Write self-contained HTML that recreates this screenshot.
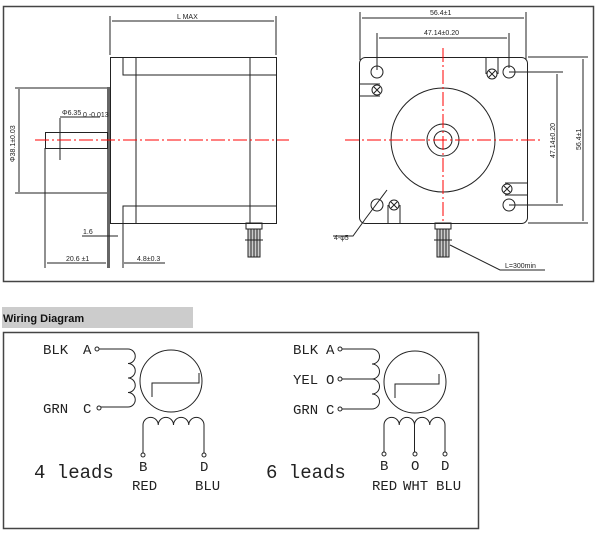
<!DOCTYPE html>
<html><head><meta charset="utf-8"><style>
html,body{margin:0;padding:0;background:#fff;width:600px;height:550px;overflow:hidden}
svg{display:block}
.d{font-family:"Liberation Sans",sans-serif;font-size:7px;fill:#222}
.w{font-family:"Liberation Mono","Liberation Serif",monospace;font-size:14px;fill:#222}
.l{font-family:"Liberation Mono",monospace;font-size:19px;fill:#222}
</style></head><body>
<svg width="600" height="550" viewBox="0 0 600 550" xmlns="http://www.w3.org/2000/svg">
<g fill="none" stroke="#222" stroke-width="1">
<!-- top frame -->
<rect x="3.5" y="6.5" width="590" height="275" stroke="#444" stroke-width="1.5"/>
<!-- LEFT VIEW -->
<line x1="110" y1="16" x2="110" y2="55"/><line x1="276" y1="16" x2="276" y2="55"/>
<line x1="112" y1="21" x2="274" y2="21"/>
<rect x="110.5" y="57.5" width="166" height="166"/>
<line x1="136" y1="57" x2="136" y2="223"/><line x1="250" y1="57" x2="250" y2="223"/>
<polyline points="123,57 123,75 276,75"/><polyline points="123,223 123,206 276,206"/>
<rect x="107" y="87" width="3" height="181" fill="#666" stroke="none"/>
<line x1="15" y1="88" x2="107" y2="88"/><line x1="15" y1="193" x2="107" y2="193"/>
<line x1="19" y1="89" x2="19" y2="192"/>
<rect x="45.5" y="132.5" width="62" height="16"/>
<line x1="60" y1="118" x2="60" y2="160"/><line x1="60" y1="117" x2="100" y2="117"/>
<line x1="82" y1="236" x2="118" y2="236"/>
<line x1="123" y1="223" x2="123" y2="268"/>
<line x1="45" y1="148" x2="45" y2="268"/>
<line x1="47" y1="263" x2="106" y2="263"/>
<line x1="124" y1="263" x2="165" y2="263"/>
<!-- connector left -->
<rect x="246" y="223" width="16" height="6"/>
<rect x="248" y="229" width="12" height="28" fill="#ccc"/>
<line x1="251" y1="229" x2="251" y2="257"/><line x1="254" y1="229" x2="254" y2="257"/><line x1="257" y1="229" x2="257" y2="257"/>
<line x1="245" y1="240" x2="263" y2="240"/>
<!-- RIGHT VIEW -->
<line x1="360" y1="12" x2="360" y2="60"/><line x1="526" y1="12" x2="526" y2="60"/>
<line x1="362" y1="18" x2="524" y2="18"/>
<line x1="377" y1="33" x2="377" y2="70"/><line x1="509" y1="33" x2="509" y2="68"/>
<line x1="379" y1="38" x2="507" y2="38"/>
<rect x="359.5" y="57.5" width="168" height="166" rx="6"/>
<circle cx="377" cy="72" r="6"/><circle cx="509" cy="72" r="6"/>
<circle cx="377" cy="205" r="6"/><circle cx="509" cy="205" r="6"/>
<polyline points="360,84 380,84"/><polyline points="360,96 380,96"/>
<circle cx="377" cy="90" r="5"/><path d="M374,87l6,6M380,87l-6,6"/>
<line x1="486" y1="57" x2="486" y2="74"/><line x1="498" y1="57" x2="498" y2="74"/>
<circle cx="492" cy="74" r="5"/><path d="M489,71l6,6M495,71l-6,6"/>
<line x1="505" y1="183" x2="528" y2="183"/><line x1="505" y1="195" x2="528" y2="195"/>
<circle cx="507" cy="189" r="5"/><path d="M504,186l6,6M510,186l-6,6"/>
<line x1="388" y1="205" x2="388" y2="223"/><line x1="400" y1="205" x2="400" y2="223"/>
<circle cx="394" cy="205" r="5"/><path d="M391,202l6,6M397,202l-6,6"/>
<circle cx="443" cy="140" r="52"/><circle cx="443" cy="140" r="16"/><circle cx="443" cy="140" r="9"/>
<line x1="509" y1="72" x2="563" y2="72"/><line x1="509" y1="205" x2="563" y2="205"/>
<line x1="557" y1="74" x2="557" y2="203"/>
<line x1="528" y1="57" x2="588" y2="57"/><line x1="528" y1="223" x2="588" y2="223"/>
<line x1="583" y1="59" x2="583" y2="221"/>
<polyline points="387,190 366,218 353,236 333,236"/>
<rect x="435" y="223" width="16" height="6"/>
<rect x="437" y="229" width="12" height="28" fill="#ccc"/>
<line x1="440" y1="229" x2="440" y2="257"/><line x1="443" y1="229" x2="443" y2="257"/><line x1="446" y1="229" x2="446" y2="257"/>
<line x1="434" y1="240" x2="452" y2="240"/>
<polyline points="450,245 500,270 545,270"/>
</g>
<g stroke="#f00" stroke-width="1" stroke-dasharray="14,3,2,3" fill="none">
<line x1="35" y1="140" x2="289" y2="140"/>
<line x1="345" y1="140" x2="541" y2="140"/>
<line x1="443" y1="48" x2="443" y2="223"/>
</g>
<text class="d" x="177" y="19">L MAX</text>
<text class="d" x="62" y="115">Φ6.35</text><text class="d" x="83" y="117" font-size="5">0 -0.013</text>
<text class="d" transform="translate(15,162) rotate(-90)">Φ38.1±0.03</text>
<text class="d" x="83" y="234">1.6</text>
<text class="d" x="66" y="261">20.6 ±1</text>
<text class="d" x="137" y="261">4.8±0.3</text>
<text class="d" x="430" y="15">56.4±1</text>
<text class="d" x="424" y="35">47.14±0.20</text>
<text class="d" transform="translate(555,158) rotate(-90)">47.14±0.20</text>
<text class="d" transform="translate(581,150) rotate(-90)">56.4±1</text>
<text class="d" x="334" y="240">4-φ5</text>
<text class="d" x="505" y="268">L=300min</text>
<!-- Wiring -->
<rect x="2" y="307" width="191" height="21" fill="#cccccc"/>
<text x="3" y="322" font-family="Liberation Sans,sans-serif" font-size="11" font-weight="bold" fill="#111">Wiring Diagram</text>
<rect x="3.5" y="332.5" width="475" height="196" fill="none" stroke="#444" stroke-width="1.5"/>
<g fill="none" stroke="#222" stroke-width="1">
<circle cx="97" cy="349" r="2"/><circle cx="99" cy="408" r="2"/>
<path d="M99,349H128a7.25,7.25 0 0 1 0,14.5a7.25,7.25 0 0 1 0,14.5a7.25,7.25 0 0 1 0,14.5a7.25,7.25 0 0 1 0,14.5H101"/>
<circle cx="171" cy="381" r="31"/>
<polyline points="152,397 152,383 199,383 199,373"/>
<path d="M143,453V425a7.6,7.6 0 0 1 15.25,0a7.6,7.6 0 0 1 15.25,0a7.6,7.6 0 0 1 15.25,0a7.6,7.6 0 0 1 15.25,0V453"/>
<circle cx="143" cy="455" r="2"/><circle cx="204" cy="455" r="2"/>
<circle cx="340" cy="349" r="2"/><circle cx="340" cy="379" r="2"/><circle cx="340" cy="409" r="2"/>
<path d="M342,349H372a7.5,7.5 0 0 1 0,15a7.5,7.5 0 0 1 0,15a7.5,7.5 0 0 1 0,15a7.5,7.5 0 0 1 0,15H342"/>
<line x1="342" y1="379" x2="372" y2="379"/>
<circle cx="415" cy="382" r="31"/>
<polyline points="395,398 395,384 439,384 439,374"/>
<path d="M384,452V425a7.6,7.6 0 0 1 15.25,0a7.6,7.6 0 0 1 15.25,0a7.6,7.6 0 0 1 15.25,0a7.6,7.6 0 0 1 15.25,0V452"/>
<line x1="414.5" y1="425" x2="414.5" y2="452"/>
<circle cx="384" cy="454" r="2"/><circle cx="415" cy="454" r="2"/><circle cx="445" cy="454" r="2"/>
</g>
<text class="w" x="43" y="354">BLK</text><text class="w" x="83" y="354">A</text>
<text class="w" x="43" y="413">GRN</text><text class="w" x="83" y="413">C</text>
<text class="w" x="139" y="471">B</text><text class="w" x="200" y="471">D</text>
<text class="w" x="132" y="490">RED</text><text class="w" x="195" y="490">BLU</text>
<text class="l" x="34" y="478">4 leads</text>
<text class="w" x="293" y="354">BLK</text><text class="w" x="326" y="354">A</text>
<text class="w" x="293" y="384">YEL</text><text class="w" x="326" y="384">O</text>
<text class="w" x="293" y="414">GRN</text><text class="w" x="326" y="414">C</text>
<text class="w" x="380" y="470">B</text><text class="w" x="411" y="470">O</text><text class="w" x="441" y="470">D</text>
<text class="w" x="372" y="490">RED</text><text class="w" x="403" y="490">WHT</text><text class="w" x="436" y="490">BLU</text>
<text class="l" x="266" y="478">6 leads</text>
</svg>
</body></html>
